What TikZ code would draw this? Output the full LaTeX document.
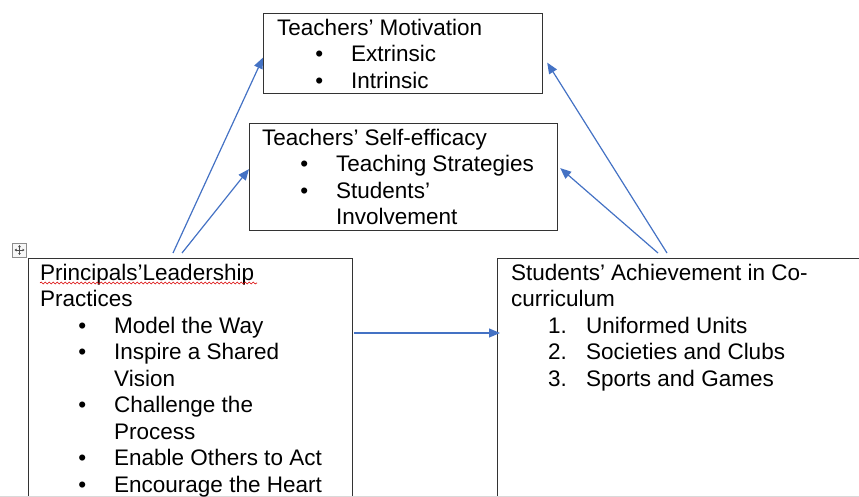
\documentclass[tikz,border=0pt]{standalone}
\usepackage{fontspec}
\setmainfont{Liberation Sans}
\usetikzlibrary{arrows.meta, positioning, decorations.pathmorphing}

% list helpers
\newcommand{\bul}{\hspace*{42pt}\makebox[0pt]{\textbullet}\hspace*{32pt}}
\newcommand{\cont}{\hspace*{74pt}}
\newcommand{\enum}[1]{\hspace*{37pt}\makebox[38pt][l]{#1}}
\newcommand{\firstline}{\rule{0pt}{20pt}}
\definecolor{wordblue}{RGB}{68,114,196}

\begin{document}
\begin{tikzpicture}[
    x=1pt, y=-1pt,
    box/.style={draw=black!80, line width=1.2pt, anchor=north west, inner sep=0pt},
    txt/.style={inner sep=0pt, align=left, font=\fontsize{22.5}{26.5}\selectfont},
    arr/.style={-{Triangle[length=11pt, width=9pt]}, line width=1.2pt, wordblue},
    >=Triangle
  ]

  \useasboundingbox (0,0) rectangle (859,497);
  \clip (0,0) rectangle (859,497);

  \node[box, minimum width=324pt, minimum height=270pt] (lead) at (28,258) {};
  \node[box, minimum width=380pt, minimum height=270pt] (achieve) at (497,258) {};
  \node[box, minimum width=279pt, minimum height=80pt] (motiv) at (263,13) {};
  \node[box, minimum width=308pt, minimum height=107pt] (selfeff) at (249,123) {};

  % page edge
  \draw[black!15, line width=0.8pt] (0,496.5) -- (859,496.5);

  \node[txt, below right=2pt and 14pt of motiv.north west] (motivtxt)
    {\firstline Teachers’ Motivation\\ \bul Extrinsic\\ \bul Intrinsic};
  \node[txt, below right=2pt and 13pt of selfeff.north west] (selfefftxt)
    {\firstline Teachers’ Self-efficacy\\ \bul Teaching Strategies\\ \bul Students’\\ \cont Involvement};
  \node[txt, below right=2pt and 12pt of lead.north west] (leadtxt)
    {\firstline Principals’Leadership\\ Practices\\ \bul Model the Way\\ \bul Inspire a Shared\\ \cont Vision\\
     \bul Challenge the\\ \cont Process\\ \bul Enable Others to Act\\ \bul Encourage the Heart};
  \node[txt, below right=2pt and 14pt of achieve.north west] (achievetxt)
    {\firstline Students’ Achievement in Co-\\ curriculum\\ \enum{1.}Uniformed Units\\ \enum{2.}Societies and Clubs\\ \enum{3.}Sports and Games};

  % spell-check squiggle
  \draw[red!85!black, line width=0.6pt, decorate, decoration={snake, amplitude=1pt, segment length=4pt}]
    (40,283) -- (257,283);

  % table move handle
  \node[draw=black!45, fill=black!3, line width=0.6pt, minimum size=14pt, inner sep=0pt] (handle) at (19.5,250) {};
  \draw[black!70, line width=0.6pt, {Triangle[length=2pt,width=2.5pt]}-{Triangle[length=2pt,width=2.5pt]}]
    ([xshift=-5pt]handle.center) -- ([xshift=5pt]handle.center);
  \draw[black!70, line width=0.6pt, {Triangle[length=2pt,width=2.5pt]}-{Triangle[length=2pt,width=2.5pt]}]
    ([yshift=-5pt]handle.center) -- ([yshift=5pt]handle.center);

  \draw[arr] ([shift={(145,-5)}]lead.north west) -- ([yshift=-4pt]motiv.west);
  \draw[arr] ([shift={(154,-5)}]lead.north west) -- ([yshift=8pt]selfeff.west);
  \draw[arr] ([shift={(170,-5)}]achieve.north west) -- ([shift={(4,9)}]motiv.east);
  \draw[arr] ([shift={(161,-5)}]achieve.north west) -- ([shift={(2,-9)}]selfeff.east);
  \draw[arr] ([shift={(1,75)}]lead.north east) -- ([shift={(3,75)}]achieve.north west);

\end{tikzpicture}
\end{document}
